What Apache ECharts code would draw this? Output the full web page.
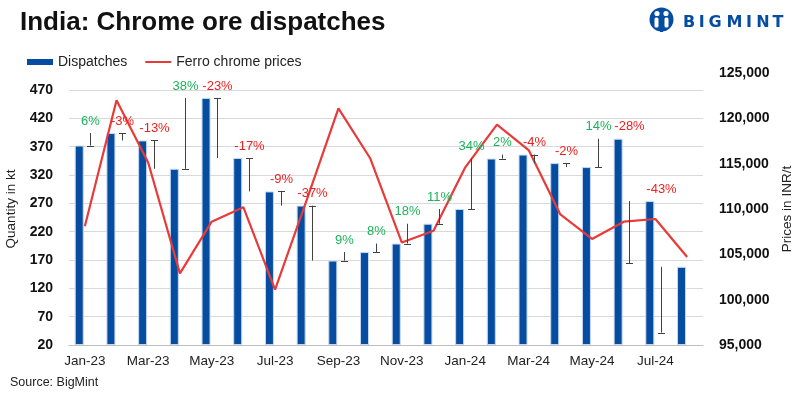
<!DOCTYPE html>
<html>
<head>
<meta charset="utf-8">
<script src="https://cdn.jsdelivr.net/npm/echarts@6/dist/echarts.min.js"></script>
<style>
  html, body { margin: 0; padding: 0; background: #fff; }
  #chart { width: 799px; height: 399px; }
</style>
</head>
<body>
<div id="chart"></div>
<script>
// months on the x axis
const months = [
  'Jan-23', 'Feb-23', 'Mar-23', 'Apr-23', 'May-23', 'Jun-23', 'Jul-23', 'Aug-23',
  'Sep-23', 'Oct-23', 'Nov-23', 'Dec-23', 'Jan-24', 'Feb-24', 'Mar-24', 'Apr-24',
  'May-24', 'Jun-24', 'Jul-24', 'Aug-24'
];
// dispatches, kt
const dispatches = [
  372, 394, 381, 331, 456, 350, 291, 266, 169, 184,
  199, 234, 260, 349, 356, 341, 334, 384, 274, 158
];
// ferro chrome prices, INR/t
const prices = [
  108100, 122000, 115100, 102900, 108600, 110200, 101100, 111000, 121100, 115600,
  106300, 107600, 114600, 119300, 116500, 109400, 106700, 108600, 108900, 104700
];
// month-on-month change labels (%)
const changes = [6, -3, -13, 38, -23, -17, -9, -37, 9, 8, 18, 11, 34, 2, -4, -2, 14, -28, -43];
// where each change whisker ends (kt), as drawn
const whiskerEnd = [372, 394, 381, 331, 456, 350, 291, 266, 169, 184, 199, 234, 260, 349, 356, 341, 334, 164, 42];

const qtyTicks = { min: 20, max: 500, step: 50 };
const priceTicks = { min: 95000, max: 125000, step: 5000 };

// left axis starts at 20, so bars are plotted relative to it
const base = qtyTicks.min;
const blue = '#064DA1';
const red = '#E93A3A';
const font = 'Liberation Sans';

const whiskerData = changes.map((c, i) => [
  i,
  dispatches[i + 1] - base,
  whiskerEnd[i] - base,
  Math.max(dispatches[i], dispatches[i + 1]) - base,
  c
]);

const chart = echarts.init(document.getElementById('chart'), null, { renderer: 'canvas' });

const logoLetters = [['B', 689], ['I', 701.7], ['G', 715], ['M', 734.5], ['I', 749], ['N', 763], ['T', 778]];

const option = {
  animation: false,
  backgroundColor: '#fff',
  title: {
    text: 'India: Chrome ore dispatches',
    left: 15,
    top: 5,
    textStyle: { fontFamily: font, fontSize: 26, fontWeight: 'bold', color: '#111' }
  },
  legend: {
    left: 22,
    top: 50,
    itemWidth: 26,
    itemHeight: 6,
    itemGap: 18,
    textStyle: { fontFamily: font, fontSize: 14, color: '#222' },
    data: [
      { name: 'Dispatches', icon: 'rect', itemStyle: { borderWidth: 0 } },
      { name: 'Ferro chrome prices', icon: 'path://M0,0H26V2H0Z' }
    ]
  },
  grid: { left: 69, right: 96, top: 73, bottom: 54, outerBoundsMode: 'none' },
  xAxis: {
    type: 'category',
    data: months,
    axisLine: { lineStyle: { color: '#BFBFBF' } },
    axisTick: { interval: 1, length: 5, lineStyle: { color: '#BFBFBF' } },
    axisLabel: { interval: 1, margin: 9, color: '#222', fontFamily: font, fontSize: 13.5 }
  },
  yAxis: [
    {
      type: 'value',
      min: 0,
      max: qtyTicks.max - base,
      interval: qtyTicks.step,
      name: 'Quantity in kt',
      nameLocation: 'middle',
      nameRotate: 90,
      nameGap: 47,
      nameTextStyle: { fontFamily: font, fontSize: 13.5, color: '#222' },
      axisLine: { show: false },
      axisTick: { show: false },
      axisLabel: {
        margin: 16,
        showMaxLabel: false,
        color: '#111',
        fontFamily: font,
        fontSize: 14,
        fontWeight: 'bold',
        formatter: v => (v + base > qtyTicks.max - qtyTicks.step + 20 ? '' : String(v + base))
      },
      splitLine: { showMaxLine: false, lineStyle: { color: '#D9D9D9', width: 1 } }
    },
    {
      type: 'value',
      min: priceTicks.min,
      max: priceTicks.max,
      interval: priceTicks.step,
      name: 'Prices in INR/t',
      nameLocation: 'middle',
      nameRotate: 90,
      nameGap: 77,
      nameTextStyle: { fontFamily: font, fontSize: 13.5, color: '#222' },
      axisLine: { show: false },
      axisTick: { show: false },
      axisLabel: {
        margin: 16,
        color: '#111',
        fontFamily: font,
        fontSize: 14,
        fontWeight: 'bold',
        formatter: v => v.toLocaleString('en-US')
      },
      splitLine: { show: false }
    }
  ],
  series: [
    {
      name: 'Dispatches',
      type: 'bar',
      barWidth: 9,
      barGap: '25%',
      itemStyle: { color: blue, borderColor: '#C5D8F0', borderWidth: 1 },
      data: dispatches.map(v => v - base)
    },
    {
      name: 'gap',
      type: 'bar',
      barWidth: 9,
      silent: true,
      itemStyle: { color: 'rgba(0,0,0,0)' },
      data: dispatches.map(v => v - base)
    },
    {
      name: 'Ferro chrome prices',
      type: 'line',
      yAxisIndex: 1,
      symbol: 'none',
      lineStyle: { color: red, width: 2.2 },
      itemStyle: { color: red },
      data: prices,
      z: 3
    },
    {
      name: 'change',
      type: 'custom',
      encode: { x: 0, y: [1, 2, 3] },
      z: 4,
      data: whiskerData,
      renderItem: function (params, api) {
        const i = api.value(0);
        const from = api.coord([i, api.value(1)]);
        const to = api.coord([i, api.value(2)]);
        const top = api.coord([i, api.value(3)]);
        const band = api.size([1, 0])[0];
        const x = Math.round(from[0] + band * 0.175) + 0.5;
        const pct = api.value(4);
        const stroke = { stroke: '#404040', lineWidth: 1 };
        return {
          type: 'group',
          children: [
            { type: 'line', shape: { x1: x, y1: from[1], x2: x, y2: to[1] }, style: stroke },
            { type: 'line', shape: { x1: x - 3.5, y1: Math.round(to[1]) + 0.5, x2: x + 3.5, y2: Math.round(to[1]) + 0.5 }, style: stroke },
            {
              type: 'text',
              style: {
                text: pct + '%',
                x: x,
                y: top[1] - 12,
                align: 'center',
                verticalAlign: 'middle',
                fill: pct >= 0 ? '#1DB35A' : '#F01E1E',
                font: '13px "' + font + '"'
              }
            }
          ]
        };
      }
    }
  ],
  graphic: [
    {
      type: 'text',
      left: 10,
      top: 376,
      style: { text: 'Source: BigMint', fill: '#222', font: '12.5px "' + font + '"' }
    },
    { type: 'circle', shape: { cx: 661.5, cy: 19.5, r: 12 }, style: { fill: blue } },
    { type: 'circle', shape: { cx: 657, cy: 13.5, r: 2.6 }, style: { fill: '#fff' } },
    { type: 'circle', shape: { cx: 666, cy: 13.5, r: 2.6 }, style: { fill: '#fff' } },
    { type: 'rect', shape: { x: 654.5, y: 17.5, width: 4, height: 10, r: 1.5 }, style: { fill: '#fff' } },
    { type: 'rect', shape: { x: 664.5, y: 17.5, width: 4, height: 10, r: 1.5 }, style: { fill: '#fff' } },
    { type: 'rect', shape: { x: 660, y: 24, width: 3, height: 8 }, style: { fill: blue } }
  ].concat(logoLetters.map(([ch, x]) => ({
    type: 'text',
    x: x,
    y: 22.5,
    style: {
      text: ch,
      align: 'center',
      verticalAlign: 'middle',
      fill: blue,
      font: 'bold 16px "DejaVu Sans"'
    }
  })))
};

chart.setOption(option);
</script>
</body>
</html>
